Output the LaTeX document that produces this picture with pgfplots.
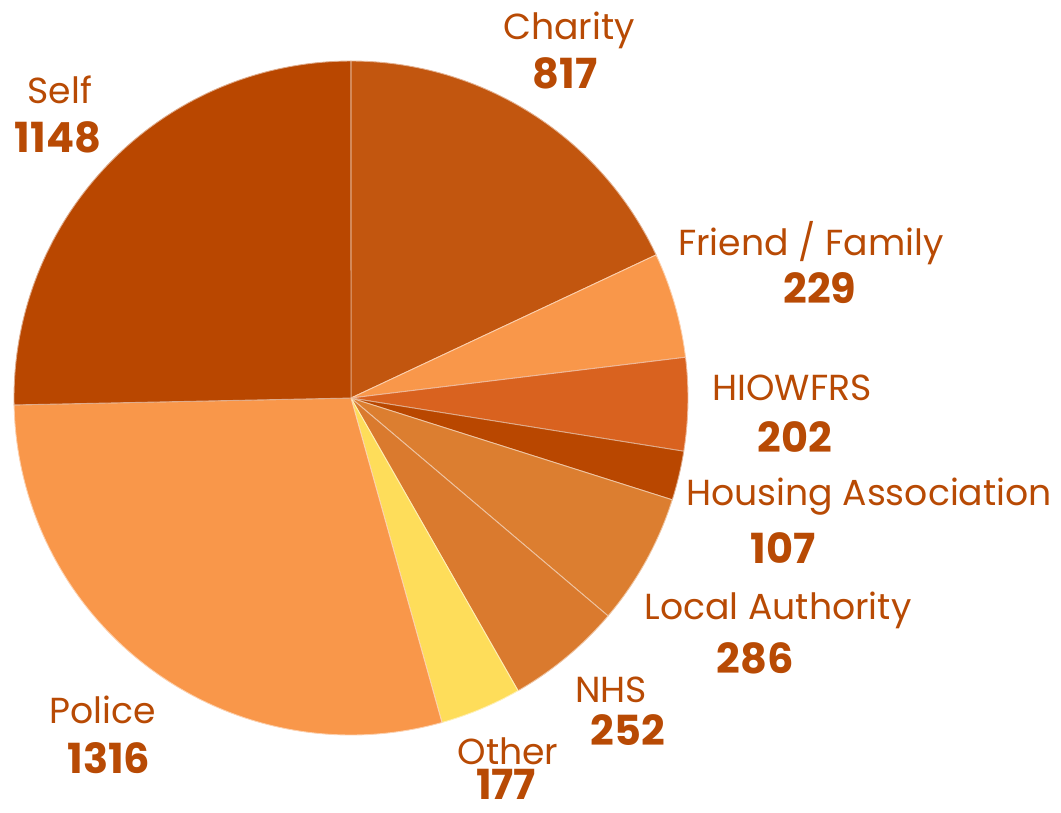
\documentclass[border=0pt]{standalone}
\usepackage{pgfplots}
\usepackage{pgfplotstable}
\pgfplotsset{compat=1.18}
\usepackage{fontspec}
\setmainfont{Poppins}

\definecolor{labelc}{HTML}{B84A04}
\definecolor{cCharity}{HTML}{C2560F}
\definecolor{cFriend}{HTML}{F9974A}
\definecolor{cFire}{HTML}{D9621F}
\definecolor{cHousing}{HTML}{B94700}
\definecolor{cLocal}{HTML}{DC7E30}
\definecolor{cNHS}{HTML}{DA7A2E}
\definecolor{cOther}{HTML}{FEDD5A}
\definecolor{cPolice}{HTML}{F9974A}
\definecolor{cSelf}{HTML}{B94700}

% referral source, count, colour, label position, count position (pixels)
\pgfplotstableread[col sep=comma]{
name,value,color,tx,ty,nx,ny
Charity,817,cCharity,569,30,565,73
Friend / Family,229,cFriend,811,243,820,288
HIOWFRS,202,cFire,792,388,795,437
Housing Association,107,cHousing,869,497,783,548
Local Authority,286,cLocal,778,610,755,658
NHS,252,cNHS,611,690,628,730
Other,177,cOther,508,751,506,784
Police,1316,cPolice,103,710,109,758
Self,1148,cSelf,60,90,58,137
}\pies

\pgfplotstablegetrowsof{\pies}
\pgfmathtruncatemacro{\lastrow}{\pgfplotsretval-1}
\gdef\total{0}
\foreach \i in {0,...,\lastrow}{%
  \pgfplotstablegetelem{\i}{value}\of\pies
  \pgfmathsetmacro\t{\total+\pgfplotsretval}%
  \xdef\total{\t}%
}

\begin{document}
\begin{tikzpicture}[
    lab/.style={text=labelc, font=\fontsize{10.3}{12}\selectfont, inner sep=0pt},
    num/.style={text=labelc, font=\fontsize{11.8}{13}\bfseries\selectfont, inner sep=0pt},
]
\begin{axis}[
    hide axis,
    scale only axis,
    width=10.61cm, height=8.12cm,
    xmin=0, xmax=1061, ymin=0, ymax=812,
    y dir=reverse,
    clip=false,
]
\path (axis cs:0,0) (axis cs:1061,812);
\gdef\startang{90}
\foreach \i in {0,...,\lastrow}{%
  \pgfplotstablegetelem{\i}{value}\of\pies \let\v\pgfplotsretval
  \pgfplotstablegetelem{\i}{color}\of\pies \let\c\pgfplotsretval
  \pgfplotstablegetelem{\i}{name}\of\pies \let\n\pgfplotsretval
  \pgfplotstablegetelem{\i}{tx}\of\pies \let\tx\pgfplotsretval
  \pgfplotstablegetelem{\i}{ty}\of\pies \let\ty\pgfplotsretval
  \pgfplotstablegetelem{\i}{nx}\of\pies \let\nx\pgfplotsretval
  \pgfplotstablegetelem{\i}{ny}\of\pies \let\ny\pgfplotsretval
  \pgfmathsetmacro\endang{\startang-\v/\total*360}%
  \edef\tmp{%
    \noexpand\fill[\c, draw=white!55!\c, line width=0.25pt]
      (axis cs:351,398) -- ++(\startang:3.37cm)
      arc[start angle=\startang, end angle=\endang, radius=3.37cm] -- cycle;
    \noexpand\node[lab] at (axis cs:\tx,\ty) {\n};
    \noexpand\node[num] at (axis cs:\nx,\ny) {\v};
  }\tmp
  \xdef\startang{\endang}%
}
\end{axis}
\end{tikzpicture}
\end{document}
